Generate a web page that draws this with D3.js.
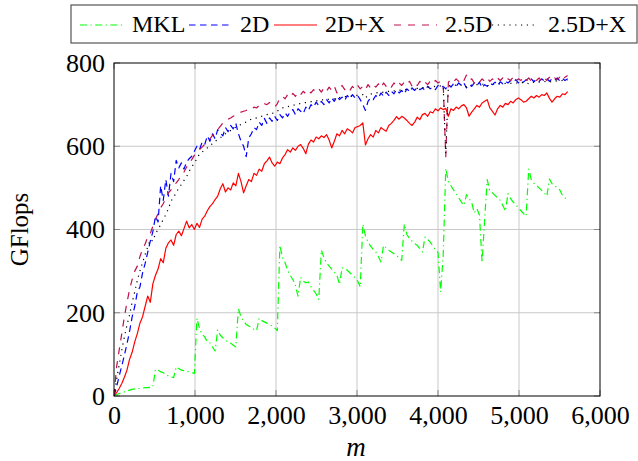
<!DOCTYPE html>
<html><head><meta charset="utf-8">
<script src="https://cdn.jsdelivr.net/npm/d3@7"></script>
<style>html,body{margin:0;padding:0;background:#fff}svg{display:block}</style>
</head><body>
<script>
// ---- data ----
const seriesNames = ["MKL", "2D", "2D+X", "2.5D", "2.5D+X"];
const xTicks = [0, 1000, 2000, 3000, 4000, 5000, 6000];
const yTicks = [0, 200, 400, 600, 800];
// problem size m, sampled every 32 from 0 to 5600
const mValues = d3.range(0, 5601, 32);

const mkl = [
 0,3,6,8,10,12,14,16,
 17,18,18,19,20,20,21,22,
 64,62,58,56,52,48,46,44,
 70,66,62,61,60,58,56,54,
 187,162,148,142,130,128,118,108,
 159,146,140,134,130,127,122,118,
 210,190,180,172,168,165,160,157,
 187,181,178,175,172,168,163,157,
 362,333,320,302,290,280,265,240,
 285,276,272,274,262,254,245,232,
 351,332,320,312,305,298,290,268,
 308,307,302,296,290,284,276,262,
 413,385,370,360,352,346,335,322,
 362,356,350,346,342,338,332,326,
 413,388,378,372,366,362,354,346,
 382,376,370,360,352,345,250,336,
 547,515,505,495,486,476,466,458,
 484,474,465,440,450,435,320,425,
 520,492,488,482,476,470,458,444,
 486,474,466,460,452,445,438,432,
 545,520,511,506,500,494,488,480,
 521,510,506,500,495,482,476,470
];
const d2 = [
 0,22,48,72,98,125,155,190,215,250,262,295,318,345,372,395,
 432,418,505,470,520,480,535,515,566,548,560,545,562,570,576,588,
 600,592,610,604,625,612,630,618,640,632,625,645,635,650,642,655,
 630,612,600,575,620,630,645,640,658,650,667,655,668,660,672,662,
 676,668,680,672,684,688,676,690,684,678,694,686,700,694,706,698,
 708,700,712,704,716,708,720,712,718,710,722,714,724,716,722,712,
 700,686,708,716,712,722,716,728,720,730,722,732,726,736,728,734,
 726,738,732,740,734,742,736,740,734,744,738,742,736,746,740,744,
 738,748,742,750,744,752,746,752,740,748,744,752,746,754,740,748,
 744,752,748,754,746,755,750,756,752,758,754,760,752,758,754,760,
 756,762,755,761,756,762,757,763,756,762,758,764,757,763,758,762
];
const d2x = [
 0,8,18,30,45,62,88,105,130,150,175,190,215,240,225,270,
 290,305,330,320,355,368,375,362,388,396,385,402,420,404,412,400,
 415,405,425,432,445,455,462,472,480,498,510,490,500,495,512,505,
 535,515,488,505,520,515,535,530,545,540,558,565,574,560,552,562,
 558,572,580,592,586,596,590,600,604,595,582,605,615,610,622,618,
 625,621,628,615,596,612,630,625,638,630,642,638,632,645,647,650,
 656,603,618,628,622,638,632,645,640,636,650,655,662,671,665,672,
 668,662,655,650,658,670,664,676,679,672,683,680,690,685,692,688,
 691,672,690,686,694,690,697,700,692,672,682,690,698,694,704,708,
 712,692,684,675,690,698,694,703,700,708,704,712,716,712,706,708,
 714,720,716,722,718,724,722,728,715,706,714,720,718,726,724,731
];
const d25 = [
 0,70,110,150,190,225,255,280,300,312,335,352,365,382,390,408,
 425,438,452,462,475,488,495,505,512,520,532,538,550,560,568,578,
 585,592,598,605,612,618,626,634,640,648,656,660,665,668,672,675,
 678,682,684,686,690,688,694,692,698,696,702,700,705,698,694,702,
 716,720,714,724,718,727,720,730,724,732,726,734,728,736,730,738,
 730,740,732,742,734,744,728,738,746,736,742,734,744,736,746,738,
 744,736,748,740,748,742,750,740,752,744,750,742,752,744,752,746,
 754,748,756,744,752,746,756,748,754,748,756,750,758,752,756,752,
 575,754,760,754,762,756,764,758,771,758,762,752,760,754,762,756,
 764,756,762,756,764,758,764,756,762,758,766,756,762,758,766,758,
 764,756,762,758,764,756,764,758,766,758,764,760,766,758,766,770
];
const d25x = [
 0,40,75,110,142,170,195,225,250,278,300,320,340,358,376,372,
 390,400,412,424,436,450,468,478,488,500,508,518,527,540,550,560,
 570,582,586,592,596,602,606,612,616,620,626,630,634,638,642,646,
 650,652,656,658,662,665,667,668,671,672,674,676,678,679,681,684,
 690,692,694,695,697,698,700,701,703,704,705,706,707,708,709,710,
 711,712,712,713,714,714,716,717,718,719,719,720,721,722,722,723,
 724,716,722,725,727,728,729,729,730,731,732,732,733,734,735,735,
 736,737,737,738,739,739,740,741,741,742,743,743,744,744,745,745,
 583,745,746,746,747,747,747,748,742,746,747,748,748,748,749,749,
 745,748,749,749,750,750,750,751,751,751,752,752,752,753,753,753,
 750,753,754,754,754,755,755,756,754,756,756,757,757,758,758,759
];
const seriesValues = [mkl, d2, d2x, d25, d25x];
const seriesColors = ["#00ff00", "#0000ff", "#ff0000", "#c0104a", "#000000"];
const seriesDash = ["7,3.5,1.2,3.5", "6.5,4.5", "none", "7,7", "1.2,4.6"];

// ---- layout ----
const W = 638, H = 461;
const L = 114, R = 600, T = 63, B = 396;
const FONT = "'Liberation Serif', 'DejaVu Serif', serif";

const svg = d3.select("body").append("svg").attr("width", W).attr("height", H);

const x = d3.scaleLinear().domain([0, 6000]).range([L, R]);
const y = d3.scaleLinear().domain([0, 800]).range([B, T]);

// grid
const grid = svg.append("g");
grid.selectAll("line.vx").data(xTicks.slice(1, -1)).join("line")
  .attr("x1", d => x(d)).attr("x2", d => x(d)).attr("y1", T).attr("y2", B)
  .attr("stroke", "#c8c8c8").attr("stroke-width", 1);
grid.selectAll("line.hy").data(yTicks.slice(1, -1)).join("line")
  .attr("x1", L).attr("x2", R).attr("y1", d => y(d)).attr("y2", d => y(d))
  .attr("stroke", "#c8c8c8").attr("stroke-width", 1);

// inward tick marks (all four sides)
const tk = 6;
const ticks = svg.append("g").attr("stroke", "#8a8a8a").attr("stroke-width", 1);
xTicks.forEach(d => {
  ticks.append("line").attr("x1", x(d)).attr("x2", x(d)).attr("y1", B).attr("y2", B - tk);
  ticks.append("line").attr("x1", x(d)).attr("x2", x(d)).attr("y1", T).attr("y2", T + tk);
});
yTicks.forEach(d => {
  ticks.append("line").attr("x1", L).attr("x2", L + tk).attr("y1", y(d)).attr("y2", y(d));
  ticks.append("line").attr("x1", R).attr("x2", R - tk).attr("y1", y(d)).attr("y2", y(d));
});

// clip
svg.append("clipPath").attr("id", "clip").append("rect")
  .attr("x", L).attr("y", T).attr("width", R - L).attr("height", B - T);

const line = d3.line().x((d, i) => x(mValues[i])).y(d => y(d));
const plot = svg.append("g").attr("clip-path", "url(#clip)");
seriesValues.forEach((vals, k) => {
  plot.append("path").datum(vals)
    .attr("d", line)
    .attr("fill", "none")
    .attr("stroke", seriesColors[k])
    .attr("stroke-width", 1.2)
    .attr("stroke-dasharray", seriesDash[k])
    .attr("stroke-linejoin", "round");
});

// frame
svg.append("rect").attr("x", L).attr("y", T).attr("width", R - L).attr("height", B - T)
  .attr("fill", "none").attr("stroke", "#000").attr("stroke-width", 1);

// axes via d3
const fmt = d3.format(",");
const xAxis = svg.append("g").attr("transform", `translate(0,${B})`)
  .call(d3.axisBottom(x).tickValues(xTicks).tickFormat(fmt).tickSize(0).tickPadding(10));
const yAxis = svg.append("g").attr("transform", `translate(${L},0)`)
  .call(d3.axisLeft(y).tickValues(yTicks).tickSize(0).tickPadding(9));
[xAxis, yAxis].forEach(g => {
  g.select(".domain").remove();
  g.selectAll("text").attr("font-family", FONT).attr("font-size", 26).attr("fill", "#000");
});
xAxis.selectAll("text").attr("dy", "0.71em");

// axis titles
svg.append("text").attr("x", (L + R) / 2 - 1).attr("y", 456)
  .attr("text-anchor", "middle").attr("font-family", FONT).attr("font-style", "italic")
  .attr("font-size", 27).text("m");
svg.append("text").attr("transform", `translate(28,${(T + B) / 2}) rotate(-90)`)
  .attr("text-anchor", "middle").attr("font-family", FONT).attr("font-size", 25).text("GFlops");

// legend
const lg = svg.append("g");
lg.append("rect").attr("x", 71).attr("y", 5).attr("width", 566).attr("height", 38)
  .attr("fill", "#fff").attr("stroke", "#555").attr("stroke-width", 1.2);
const legX = [80, 189, 274, 394, 492];
const legT = [132, 240, 325, 445, 548];
const legY = 25;
seriesNames.forEach((name, k) => {
  lg.append("line").attr("x1", legX[k]).attr("x2", legX[k] + 43)
    .attr("y1", legY).attr("y2", legY)
    .attr("stroke", seriesColors[k]).attr("stroke-width", 1.2)
    .attr("stroke-dasharray", seriesDash[k]);
  lg.append("text").attr("x", legT[k]).attr("y", 32)
    .attr("font-family", FONT).attr("font-size", 24).text(name);
});
</script>
</body></html>
